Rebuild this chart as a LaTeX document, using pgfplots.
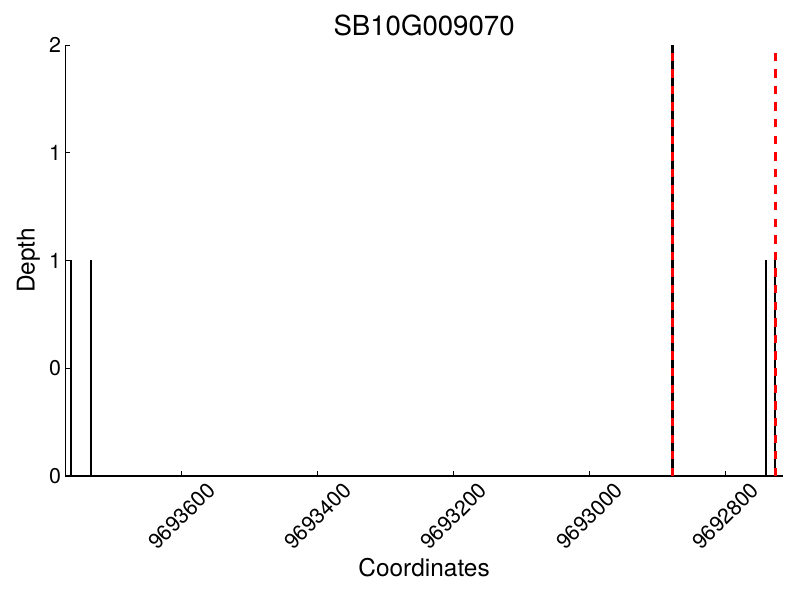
\documentclass[border=0pt]{standalone}
\usepackage{pgfplots}
\pgfplotsset{compat=1.18}
\usepackage{fontspec}
\setmainfont{TeX Gyre Heros}
\begin{document}
\begin{tikzpicture}
\begin{axis}[
  at={(0,0)}, anchor=south west,
  scale only axis, width=717.2bp, height=431bp,
  x dir=reverse,
  xmin=9692716, xmax=9693771,
  ymin=0, ymax=2,
  scaled x ticks=false, scaled y ticks=false,
  axis x line*=bottom, axis y line*=left,
  axis line style={line width=1.1bp, -},
  tick align=inside,
  major tick length=5bp,
  tick style={line width=0.8bp, black},
  xtick={9692800,9693000,9693200,9693400,9693600},
  xticklabels={9692800,9693000,9693200,9693400,9693600},
  ytick={0,0.5,1,1.5,2},
  yticklabels={0,0,1,1,2},
  /pgf/number format/assume math mode=true,
  xticklabel style={font=\fontsize{21.5}{24}\selectfont, yshift=-40bp, rotate=45, anchor=center},
  yticklabel style={font=\fontsize{21.5}{24}\selectfont, xshift=-1bp},
  title={SB10G009070},
  title style={font=\fontsize{27.7}{32}\selectfont, at={(0.5,1)}, anchor=center, yshift=14bp},
  xlabel={Coordinates},
  xlabel style={font=\fontsize{24.5}{28}\selectfont, at={(0.5,0)}, anchor=center, yshift=-92bp},
  ylabel={Depth},
  ylabel style={font=\fontsize{24.5}{28}\selectfont, at={(0,0.5)}, anchor=center, yshift=37bp},
  clip=false,
]
\addplot[ycomb, black, line width=2.2bp, mark=none] coordinates {
  (9693763,1) (9693733,1) (9692878,2) (9692740,1) (9692727,1)
};
\addplot[red, line width=2.8bp, dash pattern=on 8.3bp off 8.3bp] coordinates {(9692878,0) (9692878,2)};
\addplot[red, line width=2.8bp, dash pattern=on 8.3bp off 8.3bp] coordinates {(9692727,0) (9692727,2)};
\end{axis}
\path[use as bounding box] (-65.5bp,-124bp) rectangle (734.5bp,476bp);
\end{tikzpicture}
\end{document}
